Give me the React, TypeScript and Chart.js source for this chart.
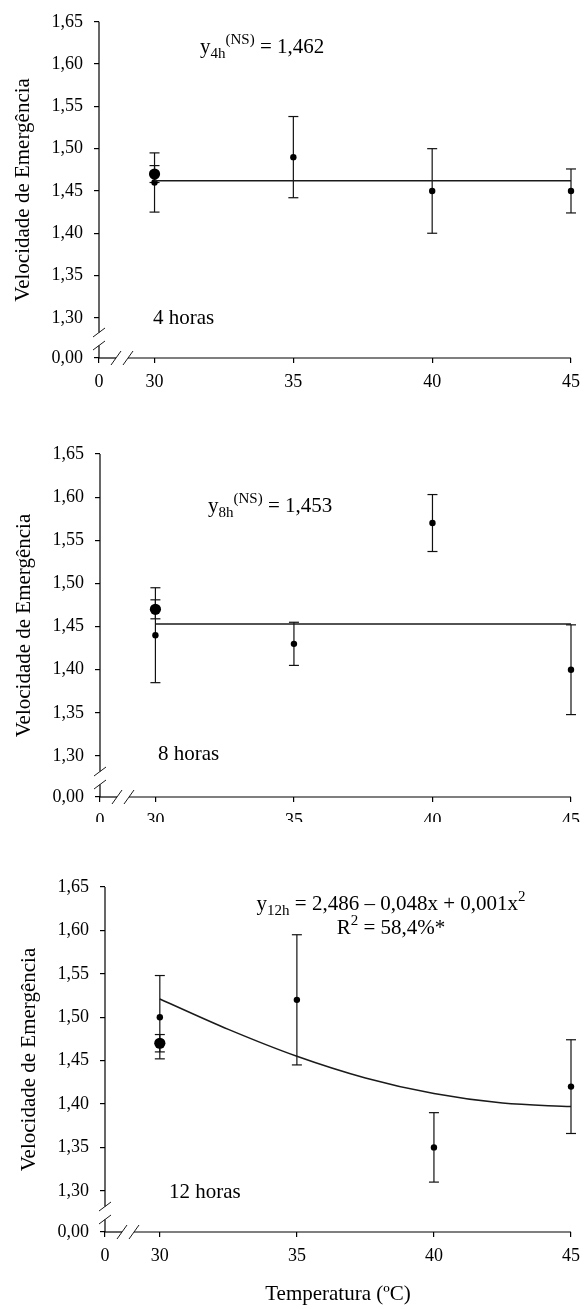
import React, { useEffect, useRef } from "react";
import { Chart, registerables } from "chart.js";

Chart.register(...registerables);

const FONT = "'Liberation Serif', 'Times New Roman', Times, serif";

// ---------- data ----------
const TEMPERATURES = [30, 35, 40, 45];

const MEAN_4H = [1.46, 1.49, 1.45, 1.45];
const ERR_4H = [0.035, 0.048, 0.05, 0.026];
const FIT_4H_X = [30, 45];
const FIT_4H_Y = [1.462, 1.462];

const MEAN_8H = [1.44, 1.43, 1.57, 1.4];
const ERR_8H = [0.055, 0.025, 0.033, 0.052];
const FIT_8H_X = [30, 45];
const FIT_8H_Y = [1.453, 1.453];

const MEAN_12H = [1.5, 1.52, 1.35, 1.42];
const ERR_12H = [0.048, 0.075, 0.04, 0.054];
const FIT_12H_X = [30, 32.5, 35, 37.5, 40, 42.5, 45];
const FIT_12H_Y = [1.521, 1.486, 1.455, 1.43, 1.412, 1.401, 1.397];

// control (large dot) shown at 30 ºC
const CONTROL_X = 30;
const CONTROL_MEAN = [1.47, 1.47, 1.47];
const CONTROL_ERR = [0.01, 0.011, 0.01];

const X_TICK_VALUES = [28, 30, 35, 40, 45];
const X_TICK_LABELS = ["0", "30", "35", "40", "45"];
const Y_TICK_VALUES = [1.2525, 1.3, 1.35, 1.4, 1.45, 1.5, 1.55, 1.6, 1.65];
const Y_TICK_LABELS = ["0,00", "1,30", "1,35", "1,40", "1,45", "1,50", "1,55", "1,60", "1,65"];

const Y_TITLE = "Velocidade de Emergência";
const X_TITLE = "Temperatura (ºC)";

const LABEL_4H = "4 horas";
const LABEL_8H = "8 horas";
const LABEL_12H = "12 horas";

// ---------- layout ----------
const W = 588;

type Run = [string, number, number];
type TextLine = { x: number; y: number; align: "left" | "center"; runs: Run[] };

const PANELS = [
  {
    top: 0,
    height: 420,
    area: { left: 99, right: 572, top: 15, bottom: 358 },
    titleX: 23,
    xTitle: false,
    means: MEAN_4H,
    errs: ERR_4H,
    fitX: FIT_4H_X,
    fitY: FIT_4H_Y,
    ctrl: 0,
    texts: [
      { x: 200, y: 53, align: "left", runs: [["y", 21, 0], ["4h", 15, 5], ["(NS)", 15, -9], [" = 1,462", 21, 0]] },
      { x: 153, y: 324, align: "left", runs: [[LABEL_4H, 21, 0]] },
    ] as TextLine[],
  },
  {
    top: 420,
    height: 402,
    area: { left: 100, right: 575, top: 34, bottom: 377 },
    titleX: 24,
    xTitle: false,
    means: MEAN_8H,
    errs: ERR_8H,
    fitX: FIT_8H_X,
    fitY: FIT_8H_Y,
    ctrl: 1,
    texts: [
      { x: 208, y: 92, align: "left", runs: [["y", 21, 0], ["8h", 15, 5], ["(NS)", 15, -9], [" = 1,453", 21, 0]] },
      { x: 158, y: 340, align: "left", runs: [[LABEL_8H, 21, 0]] },
    ] as TextLine[],
  },
  {
    top: 822,
    height: 487,
    area: { left: 105, right: 578, top: 65, bottom: 410 },
    titleX: 29,
    xTitle: true,
    means: MEAN_12H,
    errs: ERR_12H,
    fitX: FIT_12H_X,
    fitY: FIT_12H_Y,
    ctrl: 2,
    texts: [
      {
        x: 391,
        y: 88,
        align: "center",
        runs: [["y", 21, 0], ["12h", 15, 5], [" = 2,486 – 0,048x + 0,001x", 21, 0], ["2", 15, -9]],
      },
      { x: 391, y: 112, align: "center", runs: [["R", 21, 0], ["2", 15, -9], [" = 58,4%*", 21, 0]] },
      { x: 169, y: 376, align: "left", runs: [[LABEL_12H, 21, 0]] },
    ] as TextLine[],
  },
];

const decorPlugin = {
  id: "decor",
  beforeDatasetsDraw(chart: any) {
    const ctx = chart.ctx;
    const { left, right, top, bottom } = chart.chartArea;
    const xs = chart.scales.x;
    const ys = chart.scales.y;
    ctx.save();
    ctx.strokeStyle = "#000";
    ctx.lineWidth = 1.2;
    const seg = (x1: number, y1: number, x2: number, y2: number) => {
      ctx.beginPath();
      ctx.moveTo(x1, y1);
      ctx.lineTo(x2, y2);
      ctx.stroke();
    };
    // y axis with break
    const yc = bottom - 19;
    const g = 6.5;
    seg(left, top, left, yc - g);
    seg(left, yc + g, left, bottom);
    ctx.lineWidth = 0.9;
    seg(left - 6, yc - g + 4.5, left + 6, yc - g - 4.5);
    seg(left - 6, yc + g + 4.5, left + 6, yc + g - 4.5);
    // x axis with break
    ctx.lineWidth = 1.2;
    const xc = left + 23;
    const gx = 6;
    seg(left, bottom, xc - gx, bottom);
    seg(xc + gx, bottom, right, bottom);
    ctx.lineWidth = 0.9;
    seg(xc - gx - 5, bottom + 7, xc - gx + 5, bottom - 7);
    seg(xc + gx - 5, bottom + 7, xc + gx + 5, bottom - 7);

    // error bars
    ctx.lineWidth = 1.2;
    ctx.strokeStyle = "#111";
    chart.data.datasets.forEach((ds: any) => {
      if (!ds.errors) return;
      ds.data.forEach((p: any, i: number) => {
        const e = ds.errors[i];
        const px = xs.getPixelForValue(p.x);
        const y1 = ys.getPixelForValue(p.y + e);
        const y2 = ys.getPixelForValue(p.y - e);
        seg(px, y1, px, y2);
        seg(px - 5, y1, px + 5, y1);
        seg(px - 5, y2, px + 5, y2);
      });
    });
    ctx.restore();
  },
  afterDraw(chart: any) {
    const texts: TextLine[] = chart.options.plugins.decor?.texts || [];
    const ctx = chart.ctx;
    ctx.save();
    ctx.fillStyle = "#000";
    ctx.textBaseline = "alphabetic";
    ctx.textAlign = "left";
    texts.forEach((line) => {
      let total = 0;
      line.runs.forEach(([t, s]) => {
        ctx.font = `${s}px ${FONT}`;
        total += ctx.measureText(t).width;
      });
      let x = line.align === "center" ? line.x - total / 2 : line.x;
      line.runs.forEach(([t, s, dy]) => {
        ctx.font = `${s}px ${FONT}`;
        ctx.fillText(t, x, line.y + dy);
        x += ctx.measureText(t).width;
      });
    });
    ctx.restore();
  },
};

function Panel({ cfg }: { cfg: (typeof PANELS)[number] }) {
  const ref = useRef<HTMLCanvasElement | null>(null);
  useEffect(() => {
    if (!ref.current) return;
    const { area, height } = cfg;
    const chart = new Chart(ref.current, {
      type: "scatter",
      data: {
        datasets: [
          {
            type: "line",
            data: cfg.fitX.map((x, i) => ({ x, y: cfg.fitY[i] })),
            borderColor: "#1a1a1a",
            borderWidth: 1.5,
            pointRadius: 0,
            showLine: true,
            cubicInterpolationMode: "monotone",
            fill: false,
            clip: false,
          } as any,
          {
            data: TEMPERATURES.map((x, i) => ({ x, y: cfg.means[i] })),
            errors: cfg.errs,
            pointRadius: 3.2,
            pointBackgroundColor: "#000",
            pointBorderWidth: 0,
            clip: false,
          } as any,
          {
            data: [{ x: CONTROL_X, y: CONTROL_MEAN[cfg.ctrl] }],
            errors: [CONTROL_ERR[cfg.ctrl]],
            pointRadius: 5.6,
            pointBackgroundColor: "#000",
            pointBorderWidth: 0,
            clip: false,
          } as any,
        ],
      },
      options: {
        responsive: false,
        animation: false,
        devicePixelRatio: 1,
        events: [],
        layout: { padding: { left: 0, right: W - area.right, top: area.top, bottom: 0 } },
        plugins: {
          legend: { display: false },
          tooltip: { enabled: false },
          decor: { texts: cfg.texts },
        } as any,
        scales: {
          x: {
            type: "linear",
            position: "bottom",
            min: 28,
            max: 45,
            afterBuildTicks: (s: any) => {
              s.ticks = X_TICK_VALUES.map((v) => ({ value: v }));
            },
            afterFit: (s: any) => {
              s.height = height - area.bottom;
            },
            ticks: {
              autoSkip: false,
              maxRotation: 0,
              padding: 8,
              color: "#000",
              font: { family: FONT, size: 18 },
              callback: (_v: any, i: number) => X_TICK_LABELS[i],
            },
            grid: { display: true, drawOnChartArea: false, drawTicks: true, tickLength: 5, color: "#000", lineWidth: 1.2 },
            border: { display: false },
            title: {
              display: cfg.xTitle,
              text: X_TITLE,
              color: "#000",
              font: { family: FONT, size: 21, lineHeight: 1 },
              padding: { top: 0, bottom: 4 },
            },
          },
          y: {
            type: "linear",
            min: Y_TICK_VALUES[0],
            max: 1.65,
            afterBuildTicks: (s: any) => {
              s.ticks = Y_TICK_VALUES.map((v) => ({ value: v }));
            },
            afterFit: (s: any) => {
              s.width = area.left;
            },
            ticks: {
              autoSkip: false,
              padding: 11,
              color: "#000",
              font: { family: FONT, size: 18 },
              callback: (_v: any, i: number) => Y_TICK_LABELS[i],
            },
            grid: { display: true, drawOnChartArea: false, drawTicks: true, tickLength: 5, color: "#000", lineWidth: 1.2 },
            border: { display: false },
            title: {
              display: true,
              text: Y_TITLE,
              color: "#000",
              font: { family: FONT, size: 21, lineHeight: 1.2 },
              padding: { top: cfg.titleX - 12.6, bottom: 0 },
            },
          },
        },
      } as any,
      plugins: [decorPlugin],
    });
    return () => chart.destroy();
  }, [cfg]);
  return (
    <canvas
      ref={ref}
      width={W}
      height={cfg.height}
      style={{ position: "absolute", left: 0, top: cfg.top, width: W, height: cfg.height, display: "block" }}
    />
  );
}

export default function App() {
  return (
    <div style={{ position: "absolute", left: 0, top: 0, width: W, height: 1309, background: "#fff", overflow: "hidden" }}>
      {PANELS.map((p, i) => (
        <Panel key={i} cfg={p} />
      ))}
    </div>
  );
}
